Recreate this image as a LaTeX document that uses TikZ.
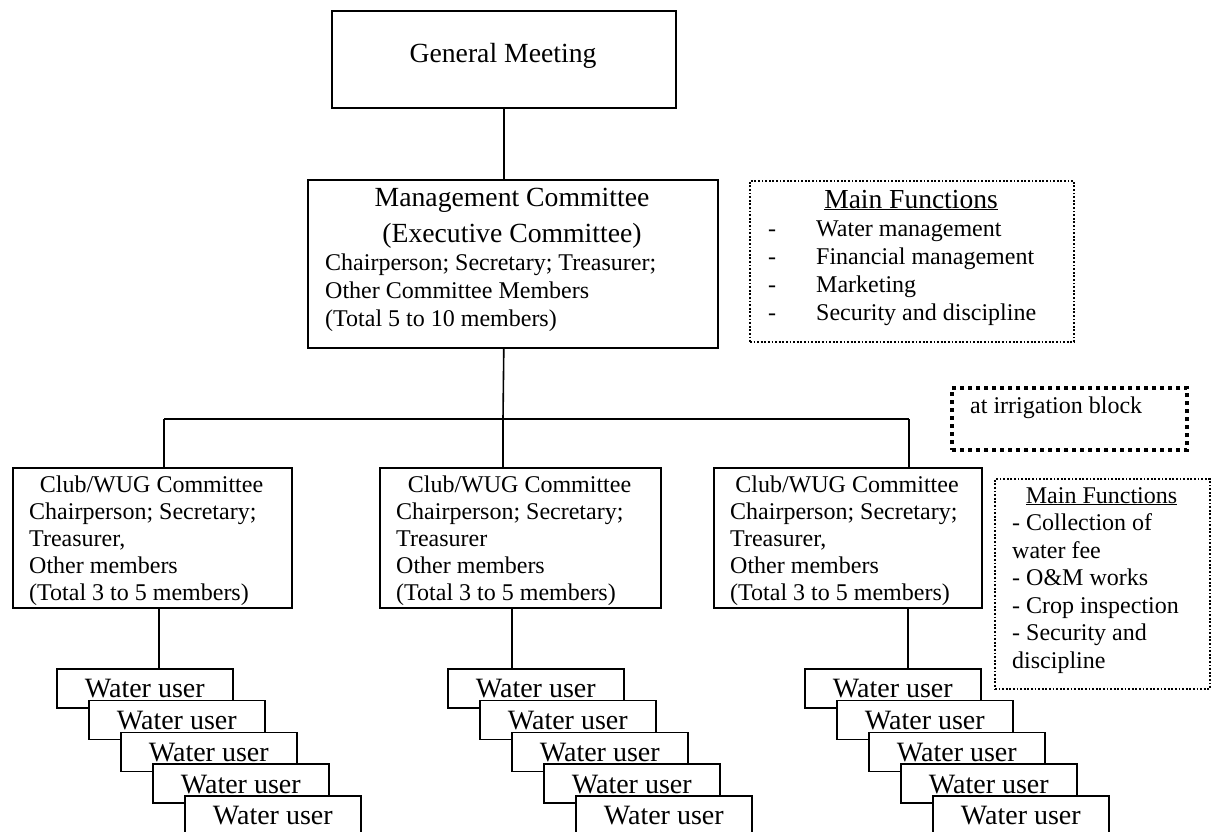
\documentclass[tikz,border=0pt]{standalone}
\usepackage{fontspec}
\setmainfont{Liberation Serif}
\begin{document}
\begin{tikzpicture}[x=1pt,y=-1pt,
  box/.style={draw, line width=1.6pt, inner sep=0pt, anchor=north west},
  wbox/.style={draw, fill=white, line width=1.6pt, anchor=north west,
    minimum width=176pt, minimum height=39pt, inner sep=0pt,
    font=\fontsize{28}{30}\selectfont, text height=19pt, text depth=0pt},
  fbox/.style={draw, line width=1.8pt, dash pattern=on 1.8pt off 1.8pt,
    inner sep=0pt, anchor=north west},
  hbox/.style={draw, line width=4pt, dash pattern=on 4pt off 4pt,
    inner sep=0pt, anchor=north west},
  big/.style={font=\fontsize{27.7}{34}\selectfont, inner sep=0pt},
  small/.style={font=\fontsize{24}{27.6}\selectfont, inner sep=0pt},
  link/.style={line width=1.6pt}]
\useasboundingbox (0,0) rectangle (1216,832);
\clip (0,0) rectangle (1216,832);

% General meeting
\node[box, minimum width=344pt, minimum height=97pt] (gm) at (331,10) {};
\node[big, anchor=base] (gmt) at (503,63) {General Meeting};

% Management committee
\node[box, minimum width=410pt, minimum height=168pt] (mc) at (307,179) {};
\node[big, anchor=base] (mc1) at (512,207) {Management Committee};
\node[big, anchor=base] (mc2) at (512,242) {(Executive Committee)};
\node[small, anchor=base west] (mc3) at (325,270) {Chairperson; Secretary; Treasurer;};
\node[small, anchor=base west] (mc4) at (325,298) {Other Committee Members};
\node[small, anchor=base west] (mc5) at (325,326) {(Total 5 to 10 members)};

% Functions of the management committee
\node[fbox, minimum width=324pt, minimum height=161pt] (mf) at (749,180) {};
\node[font=\fontsize{27.5}{30}\selectfont, inner sep=0pt, anchor=base] (mft) at (911,208) {\underline{Main Functions}};
\foreach \t [count=\i] in {Water management, Financial management, Marketing, Security and discipline}{
  \node[small, anchor=base west] (mfd\i) at (768,208+28*\i) {-};
  \node[small, anchor=base west] (mfi\i) at (816,208+28*\i) {\t};
}

% Irrigation block label
\node[hbox, minimum width=235pt, minimum height=62pt] (ib) at (950,386) {};
\node[small, anchor=base west] (ibt) at (970,413) {at irrigation block};

% Connection bus
\coordinate (b1) at (164,419);
\coordinate (bm) at (503,419);
\coordinate (b3) at (909,419);

% Club / WUG committees
\foreach \n/\x/\w/\tr in {1/12/279/{Treasurer,}, 2/379/281/{Treasurer}, 3/713/268/{Treasurer,}}{
  \node[box, minimum width=\w pt, minimum height=140pt] (c\n) at (\x,467) {};
  \node[small, anchor=base] (c\n t1) at (\x+\w/2,492) {Club/WUG Committee};
  \node[small, anchor=base west] (c\n t2) at (\x+17,519) {Chairperson; Secretary;};
  \node[small, anchor=base west] (c\n t3) at (\x+17,546) {\tr};
  \node[small, anchor=base west] (c\n t4) at (\x+17,573) {Other members};
  \node[small, anchor=base west] (c\n t5) at (\x+17,600) {(Total 3 to 5 members)};
}

\draw[link] (gm.south) -- (gm.south |- mc.north);
\draw[link] (gm.south |- mc.south) -- (bm);
\draw[link] (b1) -- (b3);
\draw[link] (b1) -- (b1 |- c1.north);
\draw[link] (bm) -- (bm |- c2.north);
\draw[link] (b3) -- (b3 |- c3.north);

% Water users
\foreach \n/\x/\lx in {1/56/159, 2/447/512, 3/804/908}{
  \coordinate (s\n) at (\lx,668);
  \draw[link] (s\n |- c\n.south) -- (s\n);
  \foreach \k in {0,...,4}{
    \node[wbox] (w\n\k) at (\x+32*\k,668+31.75*\k) {Water user};
  }
}

% Functions of the club committees
\node[fbox, minimum width=215pt, minimum height=210pt] (cf) at (994,478) {};
\node[small, anchor=base] (cft) at (1101.5,503) {\underline{Main Functions}};
\foreach \t [count=\i] in {- Collection of, water fee, - O\&M works, - Crop inspection, - Security and, discipline}{
  \node[small, anchor=base west] (cfi\i) at (1012,503+27.5*\i) {\t};
}
\end{tikzpicture}
\end{document}
